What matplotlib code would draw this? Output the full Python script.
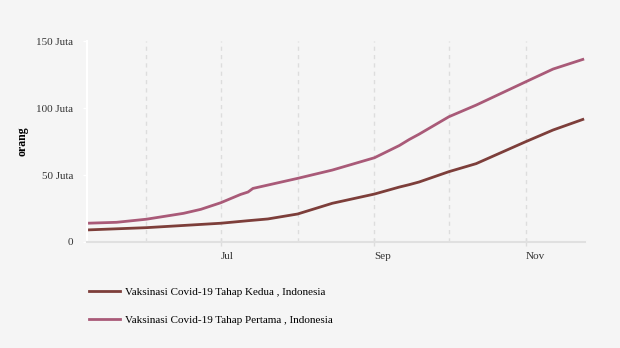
import pandas as pd
import matplotlib.pyplot as plt
import matplotlib.transforms as mtransforms

plt.rcParams['font.family'] = 'Liberation Serif'

# Vaksinasi Tahap Pertama (juta orang)
dates_pertama = pd.to_datetime([
    '2021-05-08', '2021-05-20', '2021-06-01', '2021-06-16', '2021-06-23', '2021-07-01',
    '2021-07-09', '2021-07-12', '2021-07-14', '2021-07-20', '2021-08-01', '2021-08-15',
    '2021-09-01', '2021-09-11', '2021-09-15', '2021-09-19', '2021-10-01', '2021-10-12',
    '2021-11-01', '2021-11-12', '2021-11-24'])
pertama = [14.0, 14.7, 17.0, 21.4, 24.4, 29.3,
           35.5, 37.3, 40.0, 42.5, 47.5, 53.7,
           62.9, 72.0, 76.5, 80.5, 93.5, 102.2,
           119.6, 129.1, 136.3]

# Vaksinasi Tahap Kedua (juta orang)
dates_kedua = pd.to_datetime([
    '2021-05-08', '2021-06-01', '2021-07-01', '2021-07-12', '2021-07-20', '2021-08-01',
    '2021-08-15', '2021-09-01', '2021-09-11', '2021-09-15', '2021-09-19', '2021-10-01',
    '2021-10-12', '2021-11-01', '2021-11-12', '2021-11-24'])
kedua = [9.0, 10.7, 14.0, 15.9, 17.2, 20.9,
         28.9, 35.8, 41.0, 42.8, 44.8, 52.5,
         58.5, 74.9, 83.6, 91.5]

yticks = [0, 50, 100, 150]
ytick_labels = ['0', '50 Juta', '100 Juta', '150 Juta']
xtick_dates = pd.to_datetime(['2021-07-01', '2021-09-01', '2021-11-01'])
xtick_labels = ['Jul', 'Sep', 'Nov']
grid_dates = pd.to_datetime(['2021-06-01', '2021-07-01', '2021-08-01',
                             '2021-09-01', '2021-10-01', '2021-11-01'])

bg = '#f5f5f5'
fig = plt.figure(figsize=(6.2, 3.48), dpi=100, facecolor=bg)
ax = fig.add_axes([0.140, 0.3046, 0.804, 0.5774], facecolor=bg)

for d in grid_dates:
    ax.axvline(d, color='#dddddd', lw=1, ls=(0, (3, 3)), zorder=0)

ax.plot(dates_kedua, kedua, color='#7d3e3a', lw=2,
        label='Vaksinasi Covid-19 Tahap Kedua , Indonesia')
ax.plot(dates_pertama, pertama, color='#a95a78', lw=2,
        label='Vaksinasi Covid-19 Tahap Pertama , Indonesia')

ax.set_xlim(pd.Timestamp('2021-05-08'), pd.Timestamp('2021-11-25'))
ax.set_ylim(0, 150)

ax.set_yticks(yticks)
ax.set_yticklabels(ytick_labels, fontsize=8, color='#333333')
ax.set_xticks(xtick_dates)
ax.set_xticklabels(xtick_labels, fontsize=8, color='#333333', ha='left')
offset = mtransforms.ScaledTranslation(3 / 100, 0, fig.dpi_scale_trans)
for lbl in ax.get_xticklabels():
    lbl.set_transform(lbl.get_transform() + offset)

ax.tick_params(axis='y', length=3, color='white', width=1, pad=7)
ax.tick_params(axis='x', length=6, color='#dddddd', width=1, pad=4, direction='inout')

for s in ['top', 'right']:
    ax.spines[s].set_visible(False)
ax.spines['left'].set_color('white')
ax.spines['left'].set_linewidth(1.5)
ax.spines['bottom'].set_color('#e0e0e0')
ax.spines['bottom'].set_linewidth(1.5)

ax.set_ylabel('orang', fontsize=8.5, fontweight='bold', labelpad=5)

fig.legend(loc='upper left', bbox_to_anchor=(0.127, 0.203), frameon=False,
           fontsize=8, handlelength=2.8, handletextpad=0.5, labelspacing=1.6)

fig.savefig('out.png', dpi=100, facecolor=bg)
